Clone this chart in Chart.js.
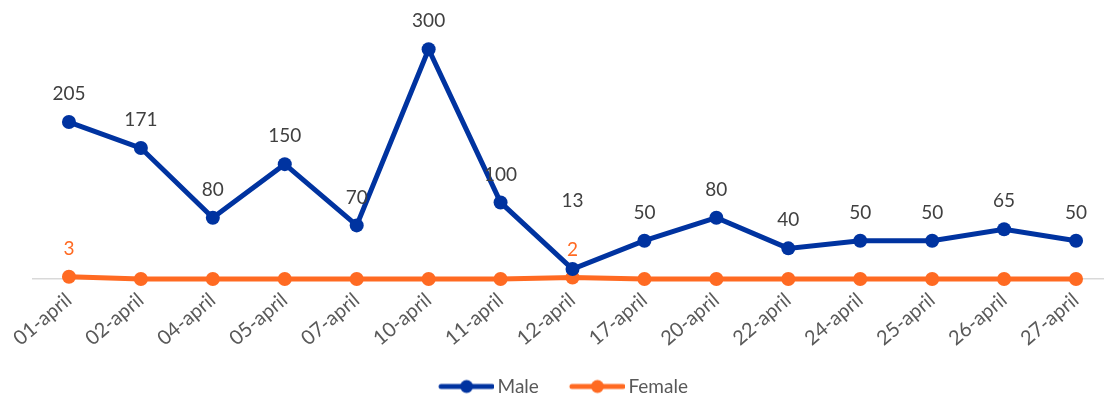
<!DOCTYPE html>
<html>
<head>
<meta charset="utf-8">
<script src="https://cdn.jsdelivr.net/npm/chart.js@4/dist/chart.umd.min.js"></script>
<style>
  html, body { margin: 0; padding: 0; background: #ffffff; overflow: hidden; }
  #wrap { width: 1104px; height: 398px; overflow: hidden; }
  canvas { display: block; }
</style>
</head>
<body>
<div id="wrap"><canvas id="chart" width="1119" height="406"></canvas></div>
<script>
// Daily counts by sex, April
const categories = ['01-april', '02-april', '04-april', '05-april', '07-april', '10-april', '11-april',
  '12-april', '17-april', '20-april', '22-april', '24-april', '25-april', '26-april', '27-april'];
const maleValues = [205, 171, 80, 150, 70, 300, 100, 13, 50, 80, 40, 50, 50, 65, 50];
const femaleValues = [3, 0, 0, 0, 0, 0, 0, 2, 0, 0, 0, 0, 0, 0, 0];
const seriesNames = ['Male', 'Female'];

const BLUE = '#0033A0';
const ORANGE = '#FF6A22';
const FONT = 'Lato, "Open Sans", sans-serif';
const LEGEND_FONT = 19;

// Legend marker: a short line with a dot in the middle.
// The canvas carries a little blank space on its left so the marker sits close to its text.
function legendMarker(color) {
  const c = document.createElement('canvas');
  c.width = 62; c.height = 16;
  const g = c.getContext('2d');
  g.strokeStyle = color; g.lineWidth = 5; g.lineCap = 'round';
  g.beginPath(); g.moveTo(9, 8); g.lineTo(60, 8); g.stroke();
  g.fillStyle = color;
  g.beginPath(); g.arc(34.5, 8, 6.5, 0, Math.PI * 2); g.fill();
  return c;
}

// Value labels above the points; zero values of the second series are left unlabeled,
// and a label that would collide with one below it is lifted above it.
const valueLabels = {
  id: 'valueLabels',
  afterDatasetsDraw(chart) {
    const ctx = chart.ctx;
    ctx.save();
    ctx.font = '19px ' + FONT;
    ctx.textAlign = 'center';
    ctx.textBaseline = 'middle';
    const placed = [];
    [1, 0].forEach(di => {
      const ds = chart.data.datasets[di];
      const meta = chart.getDatasetMeta(di);
      meta.data.forEach((pt, i) => {
        const v = ds.data[i];
        if (di === 1 && v === 0) return;
        let y = pt.y - 28;
        const other = placed.find(p => p.i === i && Math.abs(p.y - y) < 22);
        if (other) y = other.y - 49;
        placed.push({ i, y });
        ctx.fillStyle = ds.labelColor;
        ctx.fillText(String(v), pt.x, y);
      });
    });
    ctx.restore();
  }
};

// Nudge the legend row a little to the left of the plot centre.
const legendShift = {
  id: 'legendShift',
  afterLayout(chart) {
    if (chart.legend) {
      chart.legend.left -= 10;
      chart.legend.right -= 10;
    }
  }
};

new Chart(document.getElementById('chart'), {
  type: 'line',
  data: {
    labels: categories,
    datasets: [
      {
        label: seriesNames[0], data: maleValues,
        borderColor: BLUE, backgroundColor: BLUE, labelColor: '#404040',
        borderWidth: 5, pointRadius: 7, pointHoverRadius: 7,
        pointBackgroundColor: BLUE, pointBorderWidth: 0, tension: 0, clip: false
      },
      {
        label: seriesNames[1], data: femaleValues,
        borderColor: ORANGE, backgroundColor: ORANGE, labelColor: ORANGE,
        borderWidth: 5, pointRadius: 7, pointHoverRadius: 7,
        pointBackgroundColor: ORANGE, pointBorderWidth: 0, tension: 0, clip: false
      }
    ]
  },
  options: {
    responsive: false,
    animation: false,
    layout: { padding: { top: 11, left: 33, right: 6, bottom: 0 } },
    plugins: {
      tooltip: { enabled: false },
      legend: {
        position: 'bottom',
        labels: {
          usePointStyle: true,
          pointStyleWidth: 50,
          boxHeight: 16,
          padding: 30,
          color: '#595959',
          font: { family: FONT, size: LEGEND_FONT },
          generateLabels(chart) {
            return chart.data.datasets.map((ds, i) => ({
              text: ds.label,
              pointStyle: legendMarker(ds.borderColor),
              fillStyle: ds.borderColor,
              strokeStyle: ds.borderColor,
              lineWidth: 0,
              fontColor: '#595959',
              hidden: false,
              datasetIndex: i
            }));
          }
        }
      }
    },
    scales: {
      x: {
        offset: true,
        grid: { display: false, drawTicks: false },
        border: { display: true, color: '#D9D9D9', width: 1.5 },
        ticks: {
          color: '#595959',
          font: { family: FONT, size: 20 },
          minRotation: 40, maxRotation: 40,
          padding: 9,
          autoSkip: false
        },
        afterFit(scale) { scale.height = 68; }
      },
      y: {
        display: false,
        min: 0, max: 350
      }
    }
  },
  plugins: [valueLabels, legendShift]
});
</script>
</body>
</html>
